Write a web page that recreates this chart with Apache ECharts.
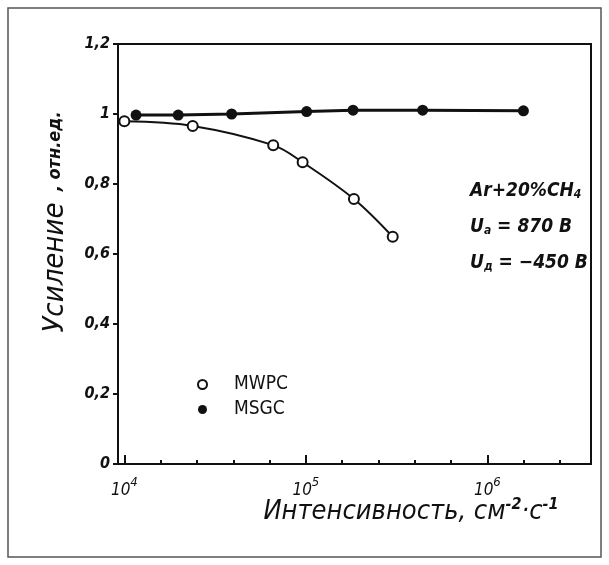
<!DOCTYPE html>
<html>
<head>
<meta charset="utf-8">
<script src="https://cdn.jsdelivr.net/npm/echarts@6/dist/echarts.min.js"></script>
<style>html,body{margin:0;padding:0;background:#fff;}#c{width:609px;height:565px;}</style>
</head>
<body>
<div id="c"></div>
<script>
// Data (intensity in cm^-2 s^-1, relative gain)
const mwpcIntensity = [1.0e4, 2.38e4, 6.61e4, 9.6e4, 1.84e5, 3.01e5];
const mwpcGain      = [0.979, 0.966, 0.911, 0.862, 0.757, 0.649];
const msgcIntensity = [1.16e4, 1.98e4, 3.9e4, 1.01e5, 1.82e5, 4.4e5, 1.58e6];
const msgcGain      = [0.997, 0.997, 1.0, 1.007, 1.011, 1.011, 1.009];
const xMajorTicks = [1e4, 1e5, 1e6];
const xMinorExponents = [4.2, 4.4, 4.6, 4.8, 5.2, 5.4, 5.6, 5.8, 6.2, 6.4];
const yTicks = [0, 0.2, 0.4, 0.6, 0.8, 1, 1.2];
const seriesNames = ['MWPC', 'MSGC'];

const FONT = "'DejaVu Sans Condensed','DejaVu Sans',sans-serif";
const xMin = Math.pow(10, 3.965), xMax = Math.pow(10, 6.571);
const xMinor = xMinorExponents.map(e => Math.pow(10, e));

const chart = echarts.init(document.getElementById('c'), null, {renderer: 'canvas'});
const pairs = (xs, ys) => xs.map((x, i) => [x, ys[i]]);

chart.setOption({
  backgroundColor: '#fff',
  animation: false,
  grid: {left: 118, right: 18, top: 44, bottom: 101, show: true, borderColor: '#111', borderWidth: 2, backgroundColor: 'transparent'},
  xAxis: [{
    type: 'log', logBase: 10, min: xMin, max: xMax,
    axisLine: {show: false},
    splitLine: {show: false},
    axisTick: {show: true, inside: true, length: 9, lineStyle: {color: '#111', width: 2}, customValues: xMajorTicks},
    axisLabel: {
      customValues: xMajorTicks, margin: 12,
      formatter: v => { const e = Math.round(Math.log10(v)); return '{b|10}{s|' + e + '}'; },
      rich: {
        b: {fontFamily: FONT, fontStyle: 'italic', fontSize: 17, color: '#111', padding: [6, 0, 0, 0]},
        s: {fontFamily: FONT, fontStyle: 'italic', fontSize: 13, color: '#111', verticalAlign: 'top', padding: [0, 0, 6, 0]}
      }
    }
  }, {
    type: 'log', logBase: 10, min: xMin, max: xMax, position: 'bottom',
    axisLine: {show: false}, splitLine: {show: false}, axisLabel: {show: false},
    axisTick: {show: true, inside: true, length: 4, lineStyle: {color: '#111', width: 2}, customValues: xMinor}
  }],
  yAxis: {
    type: 'value', min: yTicks[0], max: yTicks[yTicks.length - 1], interval: 0.2,
    axisLine: {show: false},
    splitLine: {show: false},
    axisTick: {show: true, inside: false, length: 5, lineStyle: {color: '#111', width: 2}},
    axisLabel: {
      margin: 8, color: '#111', fontFamily: FONT, fontStyle: 'italic', fontWeight: 'bold', fontSize: 16,
      formatter: v => String(Math.round(v * 10) / 10).replace('.', ',')
    }
  },
  legend: {
    orient: 'vertical', left: 192, top: 370, itemGap: 6, itemWidth: 9, itemHeight: 9,
    data: [{name: seriesNames[0], icon: 'emptyCircle', itemStyle: {color: '#111', borderColor: '#111', borderWidth: 2}},
           {name: seriesNames[1], icon: 'circle', itemStyle: {color: '#111'}}],
    textStyle: {fontFamily: FONT, fontSize: 19, color: '#111', padding: [0, 0, 0, 22]}
  },
  series: [{
    name: seriesNames[0], type: 'line', data: pairs(mwpcIntensity, mwpcGain),
    smooth: 0.35, symbol: 'emptyCircle', symbolSize: 10,
    lineStyle: {color: '#111', width: 2},
    itemStyle: {color: '#111', borderColor: '#111', borderWidth: 2},
    z: 3
  }, {
    name: seriesNames[1], type: 'line', data: pairs(msgcIntensity, msgcGain),
    smooth: false, symbol: 'circle', symbolSize: 11,
    lineStyle: {color: '#111', width: 3},
    itemStyle: {color: '#111'},
    z: 4
  }],
  graphic: [
    {type: 'rect', shape: {x: 8, y: 8, width: 593, height: 549}, style: {fill: 'none', stroke: '#555', lineWidth: 1.5}, silent: true},
    {type: 'text', x: 55, y: 222, rotation: Math.PI / 2, style: {
      text: '{a|Усиление}{b|  , отн.ед.}', align: 'center', verticalAlign: 'middle',
      rich: {a: {fontFamily: FONT, fontStyle: 'italic', fontSize: 29, fill: '#111'},
             b: {fontFamily: FONT, fontStyle: 'italic', fontWeight: 'bold', fontSize: 18, fill: '#111'}}
    }},
    {type: 'text', x: 411, y: 512, style: {
      text: '{a|Интенсивность, см}{s|-2}{a|·с}{s|-1}', align: 'center', verticalAlign: 'middle',
      rich: {a: {fontFamily: FONT, fontStyle: 'italic', fontSize: 27, fill: '#111'},
             s: {fontFamily: FONT, fontStyle: 'italic', fontWeight: 'bold', fontSize: 16, fill: '#111', verticalAlign: 'top', padding: [0, 0, 14, 0]}}
    }},
    {type: 'text', x: 470, y: 227, style: {
      text: '{a|Ar+20%CH}{u|4}\n{a|U}{u|a}{a| = 870 В}\n{a|U}{u|д}{a| = −450 В}', align: 'left', verticalAlign: 'middle',
      rich: {a: {fontFamily: FONT, fontStyle: 'italic', fontWeight: 'bold', fontSize: 19, fill: '#111', lineHeight: 36},
             u: {fontFamily: FONT, fontStyle: 'italic', fontWeight: 'bold', fontSize: 12, fill: '#111', lineHeight: 36, padding: [8, 0, 0, 0]}}
    }}
  ]
});
</script>
</body>
</html>
